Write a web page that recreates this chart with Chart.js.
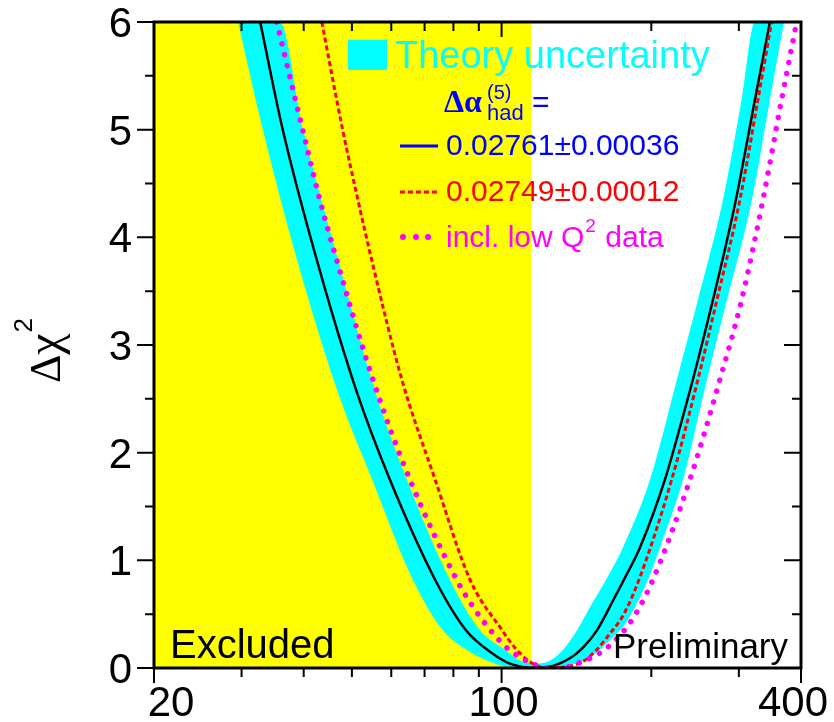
<!DOCTYPE html>
<html>
<head>
<meta charset="utf-8">
<script src="https://cdn.jsdelivr.net/npm/chart.js@4.4.1/dist/chart.umd.min.js"></script>
<style>
  html, body { margin: 0; padding: 0; background: #fff; }
  #wrap { width: 834px; height: 722px; }
</style>
</head>
<body>
<div id="wrap"><canvas id="chart" width="834" height="722"></canvas></div>
<script>
// axis ranges and ticks
const massRange = [20, 400];
const chi2Range = [0, 6];
const lepLimit = 115;
const xMajorTicks = [20, 100, 400];
const xMinorTicks = [30, 40, 50, 60, 70, 80, 90, 200, 300];
const yMajorTicks = [0, 1, 2, 3, 4, 5, 6];
const yMinorTicks = [0.5, 1.5, 2.5, 3.5, 4.5, 5.5];

// theory band, lower and upper edge
const bandLowMass = [29.5, 33.1, 38.8, 46.7, 54.9, 66.3, 76.2, 86.4, 97.0, 108.9, 126.3, 140.4, 154.8, 165.2, 177.9, 196.9, 208.2, 231.6, 258.8, 283.9, 318.7, 346.4, 369.6];
const bandLowChi2 = [6.0, 5.0, 3.79, 2.58, 1.75, 0.82, 0.35, 0.15, 0.04, 0.0, 0.0, 0.04, 0.14, 0.26, 0.42, 0.82, 1.12, 1.75, 2.68, 3.42, 4.35, 5.28, 6.0];
const bandHighMass = [29.5, 35.8, 39.9, 46.9, 55.6, 64.5, 78.7, 90.5, 101.6, 108.9, 117.8, 126.3, 132.9, 141.8, 149.9, 162.1, 175.4, 198.8, 225.2, 248.2, 278.7, 303.9, 323.2, 369.6];
const bandHighChi2 = [6.0, 6.0, 5.0, 3.79, 2.58, 1.75, 0.82, 0.35, 0.17, 0.07, 0.04, 0.08, 0.17, 0.35, 0.55, 0.82, 1.12, 1.75, 2.68, 3.42, 4.35, 5.28, 6.0, 6.0];

// 0.02761 +- 0.00036 (solid)
const fitMass = [32.7, 36.3, 42.5, 51.0, 59.6, 73.5, 84.8, 94.8, 103.9, 117.8, 126.9, 137.2, 145.7, 155.5, 169.0, 176.2, 189.8, 213.0, 232.6, 242.5, 266.1, 295.9, 323.2, 346.4];
const fitChi2 = [6.0, 5.0, 3.79, 2.58, 1.75, 0.82, 0.35, 0.15, 0.04, 0.0, 0.02, 0.09, 0.19, 0.35, 0.66, 0.82, 1.12, 1.75, 2.37, 2.68, 3.42, 4.35, 5.28, 6.0];

// 0.02749 +- 0.00012 (dashed)
const altMass = [43.5, 47.9, 51.4, 54.8, 63.0, 73.5, 86.4, 100.6, 105.4, 113.0, 123.2, 145.7, 155.3, 165.2, 175.6, 188.9, 219.8, 248.2, 271.0, 301.5, 327.7, 349.1];
const altChi2 = [6.0, 5.0, 4.35, 3.79, 2.68, 1.75, 0.82, 0.34, 0.21, 0.07, 0.0, 0.06, 0.17, 0.32, 0.49, 0.82, 1.75, 2.68, 3.42, 4.35, 5.28, 6.0];

// incl. low Q2 data (dotted)
const lowQMass = [35.3, 39.8, 43.1, 46.6, 55.1, 65.4, 81.2, 87.1, 92.6, 96.2, 103.5, 113.1, 124.1, 131.0, 143.7, 158.9, 174.3, 185.4, 201.5, 239.2, 274.8, 303.9, 335.4, 365.7, 392.0];
const lowQChi2 = [6.0, 5.0, 4.35, 3.79, 2.68, 1.75, 0.82, 0.585, 0.415, 0.32, 0.17, 0.06, 0.0, 0.0, 0.05, 0.15, 0.32, 0.49, 0.82, 1.75, 2.68, 3.42, 4.35, 5.28, 6.0];

const COLORS = { yellow: '#ffff00', cyan: '#00ffff', blue: '#0000ff', red: '#ff0000', magenta: '#ff00ff', ink: '#000000' };
const SANS = '"Liberation Sans", Arial, Helvetica, sans-serif';
const SERIF = '"Liberation Serif", "Times New Roman", serif';

function points(xs, ys) {
  return xs.map((x, i) => ({ x, y: ys[i] }));
}

function curve(label, xs, ys, extra) {
  return {
    label,
    data: points(xs, ys),
    pointRadius: 0,
    cubicInterpolationMode: 'monotone',
    fill: false,
    ...extra
  };
}

const framePlugin = {
  id: 'frameAndTexts',
  afterDraw(chart) {
    const { ctx, chartArea: a, scales: { x, y } } = chart;
    ctx.save();
    ctx.strokeStyle = COLORS.ink;
    ctx.lineWidth = 2;
    ctx.beginPath();
    yMajorTicks.forEach((v) => {
      const py = y.getPixelForValue(v);
      ctx.moveTo(a.left - 17, py); ctx.lineTo(a.left, py);
      ctx.moveTo(a.right - 17, py); ctx.lineTo(a.right, py);
    });
    yMinorTicks.forEach((v) => {
      const py = y.getPixelForValue(v);
      ctx.moveTo(a.left - 9, py); ctx.lineTo(a.left, py);
      ctx.moveTo(a.right - 9, py); ctx.lineTo(a.right, py);
    });
    xMajorTicks.forEach((v) => {
      const px = x.getPixelForValue(v);
      ctx.moveTo(px, a.bottom); ctx.lineTo(px, a.bottom + 15);
      ctx.moveTo(px, a.top); ctx.lineTo(px, a.top + 15);
    });
    xMinorTicks.forEach((v) => {
      const px = x.getPixelForValue(v);
      ctx.moveTo(px, a.bottom); ctx.lineTo(px, a.bottom + 9);
      ctx.moveTo(px, a.top); ctx.lineTo(px, a.top + 9);
    });
    ctx.stroke();
    ctx.lineWidth = 3;
    ctx.strokeRect(a.left, a.top, a.right - a.left, a.bottom - a.top);

    // tick labels
    ctx.fillStyle = COLORS.ink;
    ctx.font = `42px ${SANS}`;
    ctx.textAlign = 'right';
    ctx.textBaseline = 'alphabetic';
    yMajorTicks.forEach((v) => ctx.fillText(String(v), a.left - 22, y.getPixelForValue(v) + 15));
    const labelShift = [17, 2, -8];
    ctx.textAlign = 'center';
    xMajorTicks.forEach((v, i) => ctx.fillText(String(v), x.getPixelForValue(v) + labelShift[i], 716));

    // y title: Δχ²
    ctx.save();
    ctx.translate(60, 383);
    ctx.rotate(-Math.PI / 2);
    ctx.textAlign = 'left';
    ctx.font = `44px ${SERIF}`;
    ctx.fillText('\u0394', 0, 0);
    let w = ctx.measureText('\u0394').width;
    ctx.font = `48px ${SERIF}`;
    ctx.fillText('\u03c7', w, 0);
    w += ctx.measureText('\u03c7').width;
    ctx.font = `26px ${SANS}`;
    ctx.fillText('2', w + 1, -28);
    ctx.restore();

    // region labels
    ctx.textAlign = 'left';
    ctx.font = `40px ${SANS}`;
    ctx.fillText('Excluded', 170, 658);
    ctx.textAlign = 'right';
    ctx.font = `35px ${SANS}`;
    ctx.fillText('Preliminary', 788, 658);

    // legend
    ctx.textAlign = 'left';
    ctx.fillStyle = COLORS.cyan;
    ctx.fillRect(348, 40, 39, 30);
    ctx.font = `38px ${SANS}`;
    ctx.fillText('Theory uncertainty', 395, 68);

    ctx.fillStyle = COLORS.blue;
    ctx.font = `bold 32px ${SERIF}`;
    ctx.fillText('\u0394\u03b1', 444, 112);
    ctx.font = `20px ${SANS}`;
    ctx.fillText('(5)', 487, 99);
    ctx.font = `22px ${SANS}`;
    ctx.fillText('had', 487, 120);
    ctx.font = `30px ${SANS}`;
    ctx.fillText('=', 532, 112);
    ctx.fillText('0.02761\u00b10.00036', 446, 155);
    ctx.lineWidth = 3;
    ctx.strokeStyle = COLORS.blue;
    ctx.beginPath(); ctx.moveTo(400, 146); ctx.lineTo(438, 146); ctx.stroke();

    ctx.fillStyle = COLORS.red;
    ctx.fillText('0.02749\u00b10.00012', 446, 201);
    ctx.strokeStyle = COLORS.red;
    ctx.setLineDash([5, 3]);
    ctx.beginPath(); ctx.moveTo(400, 192); ctx.lineTo(440, 192); ctx.stroke();
    ctx.setLineDash([]);

    ctx.fillStyle = COLORS.magenta;
    [403, 416, 428].forEach((cx) => { ctx.beginPath(); ctx.arc(cx, 237, 3, 0, Math.PI * 2); ctx.fill(); });
    ctx.font = `30px ${SANS}`;
    ctx.fillText('incl. low Q', 446, 247);
    let tx = 446 + ctx.measureText('incl. low Q').width;
    ctx.font = `19px ${SANS}`;
    ctx.fillText('2', tx + 1, 232);
    tx += ctx.measureText('2').width + 2;
    ctx.font = `30px ${SANS}`;
    ctx.fillText(' data', tx, 247);
    ctx.restore();
  }
};

new Chart(document.getElementById('chart'), {
  type: 'line',
  data: {
    datasets: [
      curve('incl. low Q2 data', lowQMass, lowQChi2, {
        borderColor: COLORS.magenta, borderWidth: 5.5, borderDash: [0.01, 11.2], borderCapStyle: 'round', order: 0
      }),
      curve('0.02749±0.00012', altMass, altChi2, {
        borderColor: COLORS.red, borderWidth: 3, borderDash: [5, 3], order: 1
      }),
      curve('0.02761±0.00036', fitMass, fitChi2, {
        borderColor: COLORS.ink, borderWidth: 2.5, order: 2
      }),
      curve('Theory uncertainty', bandHighMass, bandHighChi2, {
        borderWidth: 0, borderColor: COLORS.cyan, backgroundColor: COLORS.cyan, fill: '+1', order: 3
      }),
      curve('band low', bandLowMass, bandLowChi2, {
        borderWidth: 0, borderColor: COLORS.cyan, order: 4
      }),
      {
        label: 'Excluded',
        data: points([massRange[0], lepLimit], [chi2Range[1], chi2Range[1]]),
        pointRadius: 0, borderWidth: 0, backgroundColor: COLORS.yellow, fill: 'start', order: 5
      }
    ]
  },
  options: {
    responsive: false,
    animation: false,
    devicePixelRatio: 1,
    layout: { padding: { left: 154, right: 33, top: 22, bottom: 54 } },
    plugins: { legend: { display: false }, tooltip: { enabled: false } },
    scales: {
      x: { type: 'logarithmic', min: massRange[0], max: massRange[1], display: false },
      y: { type: 'linear', min: chi2Range[0], max: chi2Range[1], display: false }
    }
  },
  plugins: [framePlugin]
});
</script>
</body>
</html>
